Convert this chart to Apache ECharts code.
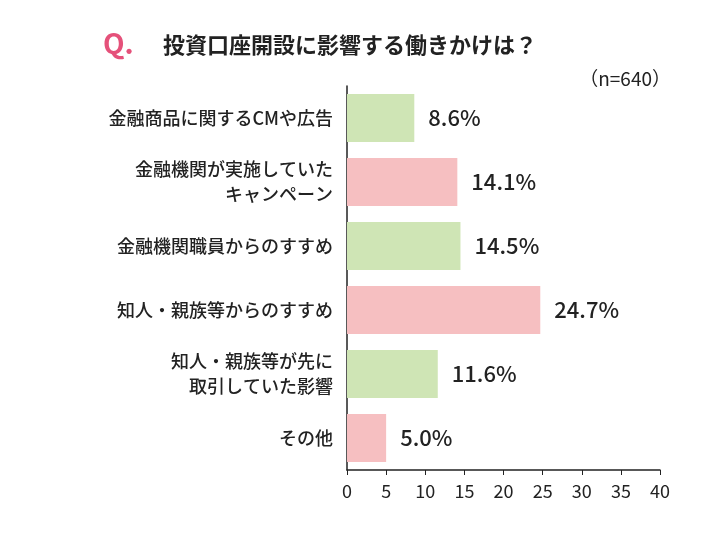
<!DOCTYPE html>
<html><head><meta charset="utf-8">
<script src="https://cdn.jsdelivr.net/npm/echarts@6/dist/echarts.min.js"></script>
<style>html,body{margin:0;background:#fff}#main{width:714px;height:540px}</style>
</head><body><div id="main"></div>
<script>
var categories = ['金融商品に関するCMや広告', '金融機関が実施していた\nキャンペーン', '金融機関職員からのすすめ',
    '知人・親族等からのすすめ', '知人・親族等が先に\n取引していた影響', 'その他'];
var values = [8.6, 14.1, 14.5, 24.7, 11.6, 5.0];
var colors = ['#cfe5b5', '#f6bfc1', '#cfe5b5', '#f6bfc1', '#cfe5b5', '#f6bfc1'];
var xTicks = [0, 5, 10, 15, 20, 25, 30, 35, 40];

var font = '"Noto Sans CJK JP", "Noto Sans", sans-serif';
var chart = echarts.init(document.getElementById('main'));
chart.setOption({
    animation: false,
    textStyle: {fontFamily: font},
    title: [
        {text: 'Q.', left: 98, top: 24, textStyle: {fontSize: 28, fontWeight: 'bold', color: '#e5517a', fontFamily: font}},
        {text: '投資口座開設に影響する働きかけは？', left: 158, top: 29, textStyle: {fontSize: 22, fontWeight: 'bold', color: '#222', fontFamily: font}},
        {text: '（n=640）', right: 38, top: 64, textStyle: {fontSize: 19, fontWeight: 'normal', color: '#222', fontFamily: font}}
    ],
    grid: {left: 347, right: 54, top: 86, bottom: 70},
    xAxis: {
        type: 'value', min: xTicks[0], max: xTicks[xTicks.length - 1], interval: 5,
        axisLine: {show: true, lineStyle: {color: '#222', width: 1.5}},
        axisTick: {show: true, length: 5, lineStyle: {color: '#222'}},
        splitLine: {show: false},
        axisLabel: {fontSize: 18, color: '#222', margin: 12}
    },
    yAxis: {
        type: 'category', inverse: true, data: categories,
        axisLine: {show: true, lineStyle: {color: '#222', width: 1.5}},
        axisTick: {show: false},
        axisLabel: {fontSize: 18, fontWeight: 500, color: '#222', margin: 14, lineHeight: 25, align: 'right'}
    },
    series: [{
        type: 'bar', barWidth: 48,
        data: values.map(function (v, i) { return {value: v, itemStyle: {color: colors[i]}}; }),
        label: {show: true, position: 'right', distance: 14, fontSize: 22, fontWeight: 500, color: '#222',
            formatter: function (p) { return p.value.toFixed(1) + '%'; }}
    }]
});
</script></body></html>
